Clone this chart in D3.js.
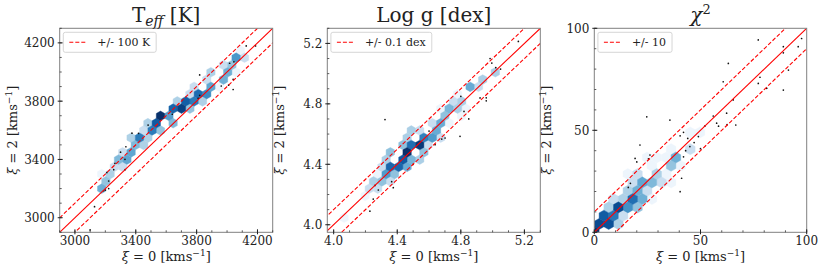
<!DOCTYPE html>
<html><head><meta charset="utf-8">
<script src="https://cdn.jsdelivr.net/npm/d3@7"></script>
<style>
html,body{margin:0;padding:0;background:#fff;}
svg{display:block;}
text{font-family:"DejaVu Serif",serif;fill:#222;}
</style></head>
<body>
<svg id="chart" width="824" height="272"></svg>
<script>
// ---------------- DATA ----------------
const titles = ["Teff", "Log g [dex]", "chi2"];
const legendLabels = ["+/- 100 K", "+/- 0.1 dex", "+/- 10"];
const tolerances = [100, 0.1, 10];

const teffDomain = [2900, 4300];
const loggDomainX = [3.96, 5.30];
const loggDomainY = [3.95, 5.30];
const chiDomain = [0, 100];

const teffTicks = [3000, 3400, 3800, 4200];
const loggTicks = [4.0, 4.4, 4.8, 5.2];
const chiTicks = [0, 50, 100];
const teffMinorStep = 100, loggMinorStep = 0.1, chiMinorStep = 10;

// hexbin cells: [xi0, xi2, count]
const teffCells = [
  [3150,3200,4],[3180,3230,2],[3200,3260,3],[3250,3320,3],[3300,3380,5],[3330,3420,7],[3350,3440,4],
  [3400,3500,5],[3430,3520,6],[3450,3560,8],[3480,3590,5],[3500,3610,9],[3530,3640,10],[3550,3655,14],
  [3590,3690,40],[3600,3695,8],[3650,3730,16],[3680,3750,10],[3700,3765,20],[3750,3800,22],[3780,3820,14],
  [3800,3835,18],[3850,3870,9],[3900,3910,7],[3950,3960,6],[4000,4005,5],[4050,4050,4],[4082,4083,6],
  [4100,4110,2],
  [3190,3290,1],[3260,3370,2],[3320,3450,2],[3380,3540,3],[3440,3600,2],[3500,3660,3],[3560,3720,5],
  [3620,3760,4],[3680,3800,3],[3740,3840,2],[3800,3880,2],[3860,3930,2],[3920,3990,3],[3980,4040,2],
  [4040,4110,3],[4090,4140,1],
  [3230,3250,1],[3300,3330,2],[3370,3440,3],[3430,3500,3],[3500,3560,3],[3560,3620,4],[3630,3670,5],
  [3700,3720,5],[3760,3760,4],[3820,3810,3],[3880,3850,2],[3930,3900,1],[4000,3970,1],[4060,4030,1]
];
const loggCells = [
  [4.08,4.04,1],[4.20,4.19,1],[4.24,4.24,2],[4.27,4.27,3],[4.30,4.31,4],[4.33,4.34,8],[4.36,4.38,18],
  [4.39,4.40,12],[4.42,4.44,22],[4.45,4.46,14],[4.48,4.49,26],[4.51,4.51,16],[4.54,4.52,35],[4.56,4.56,12],
  [4.60,4.59,8],[4.63,4.63,6],[4.66,4.65,6],[4.70,4.70,4],[4.74,4.77,5],[4.78,4.79,3],[4.81,4.82,3],
  [4.86,4.90,6],[4.90,4.92,2],[4.93,4.95,3],[5.00,4.99,3],
  [4.26,4.32,1],[4.30,4.38,2],[4.34,4.44,3],[4.38,4.48,4],[4.42,4.52,4],[4.46,4.56,3],[4.50,4.60,3],
  [4.56,4.64,2],[4.62,4.70,2],[4.68,4.76,1],[4.74,4.82,2],[4.80,4.88,1],
  [4.30,4.24,2],[4.34,4.28,2],[4.38,4.32,4],[4.42,4.36,6],[4.46,4.40,6],[4.50,4.44,5],[4.54,4.46,3],
  [4.58,4.50,4],[4.62,4.54,2],[4.66,4.58,2],[4.72,4.66,1],[4.78,4.72,1],[4.84,4.78,1]
];
const chiCells = [
  [1,2,45],[3,4,30],[6,5,25],[6,8,20],[9,8,15],[12,11,18],[13,13,12],[16,10,10],[16,15,10],[19,18,7],
  [21,20,6],[24,24,7],[27,27,5],[30,30,3],[34,34,3],[37,36,2],[40,38,4],[43,42,2],[46,48,1],[51,48,1],
  [3,8,3],[7,12,3],[10,15,2],[13,17,3],[17,21,3],[20,24,2],[22,28,2],[26,32,1],[30,35,1],[34,39,1],[38,42,1],
  [9,4,2],[12,6,3],[15,8,2],[19,12,4],[21,15,3],[24,18,3],[27,21,2],[30,24,2],[33,27,1],[36,30,1],[40,32,1],
  [18,28,1],[28,18,1],[24,36,1],[35,24,1]
];

// individual outlier points: [xi0, xi2]
const teffPoints = [
  [4126,4179],[4187,4179],[4017,4060],[4045,4070],[3820,3980],[3962,3904],[4010,3910],
  [4040,3950],[4040,3880],[3820,3840],[3810,3820],[3640,3710],[3481,3636],[3418,3579],
  [3375,3580],[3335,3487],[3329,3401],[3263,3373],[3255,3330],[3330,3330],[3210,3310],
  [3222,3252],[3222,3200],[3189,3185],[3200,3190],[3129,3076],[3100,2916],[3300,3450]
];
const loggPoints = [
  [5.162,5.213],[4.995,5.07],[4.984,5.10],[5.02,5.04],[5.05,5.03],[4.921,4.839],[4.96,4.84],
  [4.96,4.82],[4.323,4.696],[4.795,4.585],[4.701,4.574],[4.68,4.567],[4.638,4.53],[4.82,4.75],
  [4.85,4.70],[4.365,4.285],[4.281,4.23],[4.249,4.17],[4.228,4.09],[4.26,4.26],[4.375,4.245],
  [4.50,4.40],[4.80,4.85],[4.60,4.62]
];
const chiPoints = [
  [77.2,94.3],[89,91],[96,91],[97.6,95],[89,88],[91.4,79.5],[89,69.7],[81.2,70.6],[77.2,73],
  [78,76],[63.1,82.8],[60.7,73.8],[65.4,64.9],[62.3,58.4],[57.6,53.5],[58.5,52],[66.6,52.6],
  [62.5,52.8],[35.6,55],[24.7,56.6],[40.4,47.3],[42,49],[49,46.9],[47,44],[43,40],[42,37],
  [41.1,26.5],[40.4,19.9],[21.5,42.8],[26.2,37.9],[25.5,36],[19.2,36.2],[20,34.5],[16,22],
  [17,24],[50,41],[52,52],[56,57],[44,46],[45,42]
];

// ---------------- LAYOUT ----------------
const svg = d3.select("#chart");
const plotTop = 28.3, plotH = 204;
const panels = [
  {x0:59.7, w:213, dx:teffDomain, dy:teffDomain, ticks:teffTicks, minor:teffMinorStep,
   fmt:d=>String(d), cells:teffCells, pts:teffPoints, hexW:8.4},
  {x0:327.3, w:213, dx:loggDomainX, dy:loggDomainY, ticks:loggTicks, minor:loggMinorStep,
   fmt:d=>d.toFixed(1), cells:loggCells, pts:loggPoints, hexW:8.4},
  {x0:594.3, w:212.4, dx:chiDomain, dy:chiDomain, ticks:chiTicks, minor:chiMinorStep,
   fmt:d=>String(d), cells:chiCells, pts:chiPoints, hexW:9.6}
];

const defs = svg.append("defs");

function hexbin(cells, xmin, ymin, sx, sy) {
  const bins = new Map();
  for (const [x, y, n] of cells) {
    const xs = (x - xmin) / sx, ys = (y - ymin) / sy;
    const ix1 = Math.round(xs), iy1 = Math.round(ys);
    const ix2 = Math.floor(xs), iy2 = Math.floor(ys);
    const d1 = (xs - ix1) ** 2 + 3 * (ys - iy1) ** 2;
    const d2 = (xs - ix2 - 0.5) ** 2 + 3 * (ys - iy2 - 0.5) ** 2;
    let cx, cy, key;
    if (d1 < d2) { cx = xmin + ix1 * sx; cy = ymin + iy1 * sy; key = "a" + ix1 + "," + iy1; }
    else { cx = xmin + (ix2 + 0.5) * sx; cy = ymin + (iy2 + 0.5) * sy; key = "b" + ix2 + "," + iy2; }
    if (!bins.has(key)) bins.set(key, {cx, cy, n: 0});
    bins.get(key).n += n;
  }
  return Array.from(bins.values());
}

panels.forEach((p, i) => {
  const x = d3.scaleLinear().domain(p.dx).range([p.x0, p.x0 + p.w]);
  const y = d3.scaleLinear().domain(p.dy).range([plotTop + plotH, plotTop]);
  const g = svg.append("g");
  const clipId = "clip" + i;
  defs.append("clipPath").attr("id", clipId).append("rect")
    .attr("x", p.x0).attr("y", plotTop).attr("width", p.w).attr("height", plotH);
  const inner = g.append("g").attr("clip-path", `url(#${clipId})`);

  // hexbin
  const kx = p.w / (p.dx[1] - p.dx[0]);
  const ky = plotH / (p.dy[1] - p.dy[0]);
  const sx = p.hexW / kx;
  const sy = Math.sqrt(3) * p.hexW / ky;
  const bins = hexbin(p.cells, p.dx[0], p.dy[0], sx, sy);
  const maxN = d3.max(bins, b => b.n);
  const color = n => d3.interpolateBlues(0.05 + 0.95 * Math.log(n) / Math.log(maxN));
  const hx = [0.5, 0.5, 0, -0.5, -0.5, 0], hy = [-0.5, 0.5, 1, 0.5, -0.5, -1];
  inner.selectAll("path.hex").data(bins.sort((a, b) => a.n - b.n)).join("path")
    .attr("class", "hex")
    .attr("d", b => "M" + hx.map((v, k) => [x(b.cx + v * sx), y(b.cy + hy[k] * sy / 3)].join(",")).join("L") + "Z")
    .attr("fill", b => color(b.n))
    .attr("stroke", b => color(b.n))
    .attr("stroke-width", 0.4);

  // points
  inner.selectAll("circle.pt").data(p.pts).join("circle")
    .attr("cx", d => x(d[0])).attr("cy", d => y(d[1])).attr("r", 0.85).attr("fill", "#111");

  // one-to-one lines
  const lo = Math.min(p.dx[0], p.dy[0]) - tolerances[i] * 2;
  const hi = Math.max(p.dx[1], p.dy[1]) + tolerances[i] * 2;
  const line = d3.line().x(d => x(d[0])).y(d => y(d[1]));
  [-1, 0, 1].forEach(s => {
    inner.append("path")
      .attr("d", line([[lo, lo + s * tolerances[i]], [hi, hi + s * tolerances[i]]]))
      .attr("fill", "none").attr("stroke", "#f00").attr("stroke-width", 1.1)
      .attr("stroke-dasharray", s === 0 ? null : "4,2");
  });

  // frame
  g.append("rect").attr("x", p.x0).attr("y", plotTop).attr("width", p.w).attr("height", plotH)
    .attr("fill", "none").attr("stroke", "#808080").attr("stroke-width", 1);

  // ticks
  const minorX = d3.range(Math.ceil(p.dx[0] / p.minor) * p.minor, p.dx[1] + 1e-9, p.minor);
  const minorY = d3.range(Math.ceil(p.dy[0] / p.minor) * p.minor, p.dy[1] + 1e-9, p.minor);
  const yb = plotTop + plotH;
  g.selectAll("line.mnx").data(minorX).join("line")
    .attr("x1", d => x(d)).attr("x2", d => x(d)).attr("y1", yb).attr("y2", yb - 2)
    .attr("stroke", "#333").attr("stroke-width", 0.8);
  g.selectAll("line.mny").data(minorY).join("line")
    .attr("y1", d => y(d)).attr("y2", d => y(d)).attr("x1", p.x0).attr("x2", p.x0 + 2)
    .attr("stroke", "#333").attr("stroke-width", 0.8);
  const tx = p.ticks.filter(t => t >= p.dx[0] - 1e-9 && t <= p.dx[1] + 1e-9);
  const ty = p.ticks.filter(t => t >= p.dy[0] - 1e-9 && t <= p.dy[1] + 1e-9);
  g.selectAll("line.mjx").data(tx).join("line")
    .attr("x1", d => x(d)).attr("x2", d => x(d)).attr("y1", yb + 2).attr("y2", yb - 3)
    .attr("stroke", "#222").attr("stroke-width", 1);
  g.selectAll("line.mjy").data(ty).join("line")
    .attr("y1", d => y(d)).attr("y2", d => y(d)).attr("x1", p.x0 - 2).attr("x2", p.x0 + 3)
    .attr("stroke", "#222").attr("stroke-width", 1);
  g.selectAll("text.tx").data(tx).join("text")
    .attr("x", d => x(d)).attr("y", yb + 13).attr("text-anchor", "middle")
    .attr("font-size", 12).text(p.fmt);
  g.selectAll("text.ty").data(ty).join("text")
    .attr("x", p.x0 - 5).attr("y", d => y(d) + 4.5).attr("text-anchor", "end")
    .attr("font-size", 12).text(p.fmt);

  // axis labels
  const cx = p.x0 + p.w / 2;
  const xl = g.append("text").attr("x", cx).attr("y", 261).attr("text-anchor", "middle").attr("font-size", 13);
  xl.append("tspan").attr("font-style", "italic").text("ξ");
  xl.append("tspan").text(" = 0 [kms");
  xl.append("tspan").attr("font-size", 9).attr("dy", -5).text("−1");
  xl.append("tspan").attr("dy", 5).text("]");
  const yl = g.append("text").attr("transform", `translate(${p.x0 - 43},${plotTop + plotH / 2}) rotate(-90)`)
    .attr("text-anchor", "middle").attr("font-size", 13);
  yl.append("tspan").attr("font-style", "italic").text("ξ");
  yl.append("tspan").text(" = 2 [kms");
  yl.append("tspan").attr("font-size", 9).attr("dy", -5).text("−1");
  yl.append("tspan").attr("dy", 5).text("]");

  // title
  const tt = g.append("text").attr("x", cx).attr("y", 22).attr("text-anchor", "middle").attr("font-size", 20);
  if (i === 0) {
    tt.append("tspan").text("T");
    tt.append("tspan").attr("font-style", "italic").attr("font-size", 14).attr("dy", 4).text("eff");
    tt.append("tspan").attr("dy", -4).text(" [K]");
  } else if (i === 1) {
    tt.text(titles[1]);
  } else {
    tt.append("tspan").attr("font-style", "italic").text("χ");
    tt.append("tspan").attr("font-size", 13).attr("dy", -8).text("2");
  }

  // legend
  const lg = g.append("g");
  const bx = p.x0 + 3.6, by = 32.3;
  const box = lg.append("rect").attr("x", bx).attr("y", by).attr("height", 20).attr("rx", 2)
    .attr("fill", "#fff").attr("fill-opacity", 0.85).attr("stroke", "#cccccc").attr("stroke-width", 0.8);
  lg.append("line").attr("x1", bx + 6).attr("x2", bx + 24).attr("y1", by + 10).attr("y2", by + 10)
    .attr("stroke", "#f00").attr("stroke-width", 1.1).attr("stroke-dasharray", "4,2");
  const lt = lg.append("text").attr("x", bx + 34).attr("y", by + 14).attr("font-size", 11).text(legendLabels[i]);
  box.attr("width", 34 + lt.node().getComputedTextLength() + 6);
});
</script>
</body></html>
